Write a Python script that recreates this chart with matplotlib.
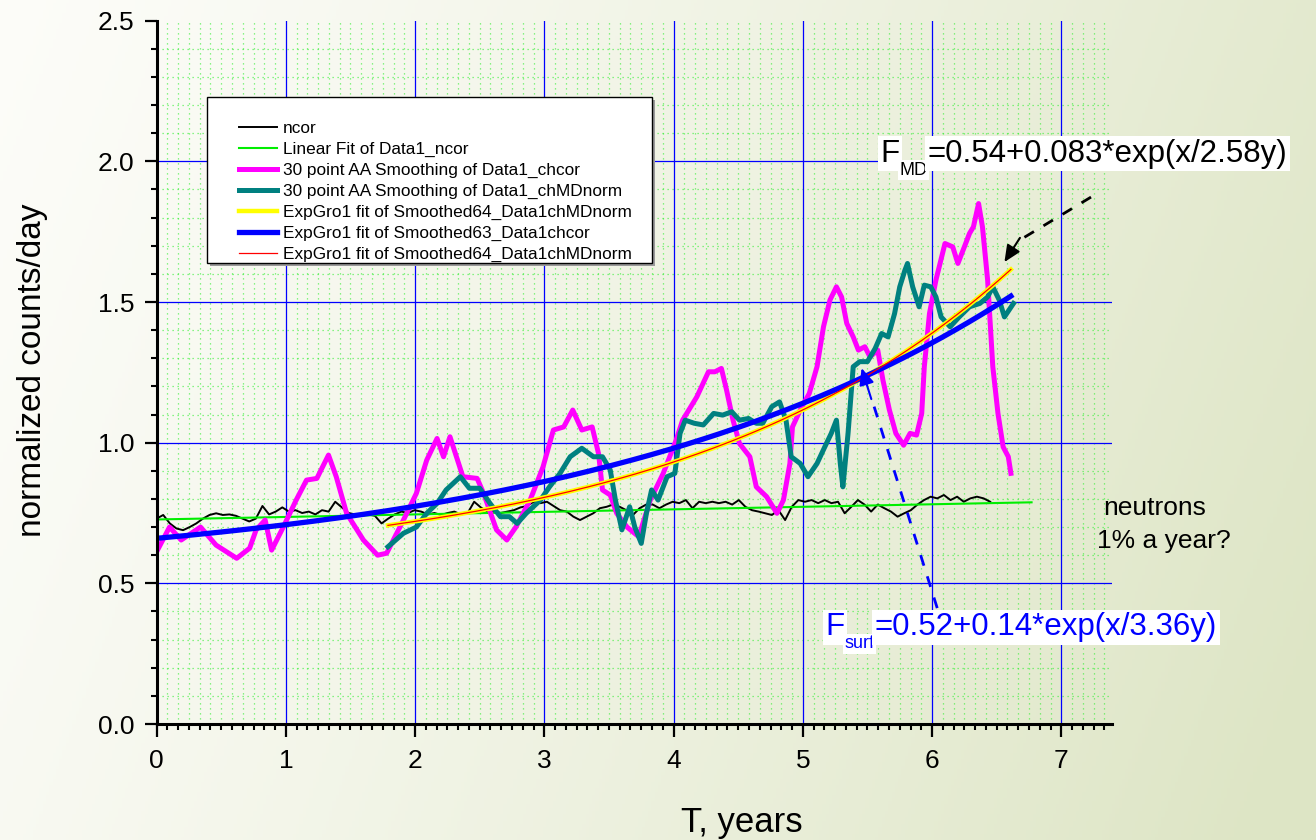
import numpy as np
import matplotlib
matplotlib.use("Agg")
import matplotlib.pyplot as plt
from matplotlib.patches import Rectangle
from matplotlib.ticker import MultipleLocator, FormatStrFormatter

plt.rcParams['font.family'] = ['Liberation Sans', 'DejaVu Sans']

# ---------------- data ----------------
# raw neutron monitor counts (ncor), evenly spaced from 0 to 6.45 years
ncor_t_end = 6.45
ncor = [0.73, 0.743, 0.713, 0.695, 0.689, 0.70, 0.713, 0.73, 0.743, 0.749,
        0.743, 0.745, 0.74, 0.73, 0.72, 0.73, 0.775, 0.745, 0.755, 0.77,
        0.755, 0.76, 0.75, 0.755, 0.745, 0.76, 0.755, 0.79, 0.77, 0.75,
        0.745, 0.74, 0.745, 0.74, 0.713, 0.73, 0.745, 0.755, 0.75, 0.76,
        0.755, 0.745, 0.75, 0.743, 0.75, 0.755, 0.745, 0.749, 0.79, 0.77,
        0.755, 0.755, 0.75, 0.755, 0.76, 0.77, 0.775, 0.79, 0.785, 0.79,
        0.775, 0.76,
        0.755, 0.737, 0.725, 0.737, 0.749, 0.767, 0.772, 0.78, 0.772, 0.76,
        0.743, 0.767, 0.78, 0.78, 0.767, 0.78, 0.79, 0.785, 0.796, 0.767,
        0.79, 0.785, 0.79, 0.785, 0.79, 0.78, 0.796, 0.772, 0.76, 0.755,
        0.749, 0.743, 0.76, 0.725, 0.772, 0.796, 0.79, 0.796, 0.785, 0.796,
        0.785, 0.79, 0.749, 0.772, 0.796, 0.78, 0.755, 0.78, 0.767, 0.755,
        0.737, 0.749, 0.76, 0.78, 0.796, 0.808, 0.802, 0.814, 0.796, 0.808,
        0.79, 0.802, 0.808, 0.802, 0.79]

# linear fit of ncor (end points)
lin_t = [0.0, 6.77]
lin_y = [0.727, 0.788]

# 30 point AA smoothing of chcor
chcor_t = [0.00, 0.10, 0.19, 0.34, 0.46, 0.62, 0.72, 0.77, 0.84, 0.89,
           0.98, 1.08, 1.16, 1.24, 1.33, 1.39, 1.47, 1.60, 1.71, 1.78,
           1.91, 2.01, 2.09, 2.17, 2.22, 2.27, 2.32, 2.37, 2.48, 2.53,
           2.63, 2.71, 2.78, 2.89, 2.99, 3.07, 3.15, 3.22, 3.29, 3.37,
           3.42, 3.45, 3.51, 3.56, 3.64, 3.73, 3.82, 3.92, 4.02, 4.07,
           4.18, 4.27, 4.32, 4.37, 4.41, 4.46, 4.51, 4.59, 4.64, 4.72,
           4.80, 4.85, 4.90, 4.92, 4.98, 5.05, 5.11, 5.16, 5.21, 5.26,
           5.30, 5.34, 5.39, 5.43, 5.48, 5.52, 5.58, 5.62, 5.67, 5.72,
           5.78, 5.83, 5.88, 5.92, 5.94, 5.98, 6.03, 6.10, 6.16, 6.20,
           6.25, 6.29, 6.32, 6.36, 6.39, 6.43, 6.47, 6.51, 6.55, 6.59,
           6.61]
chcor = [0.612, 0.70, 0.654, 0.70, 0.636, 0.589, 0.625, 0.69, 0.725, 0.618,
         0.70, 0.796, 0.867, 0.873, 0.956, 0.879, 0.749, 0.654, 0.60, 0.607,
         0.725, 0.82, 0.938, 1.015, 0.95, 1.021, 0.95, 0.879, 0.873, 0.82,
         0.69, 0.654, 0.70, 0.796, 0.914, 1.045, 1.056, 1.116, 1.045, 1.056,
         0.96, 0.832, 0.814, 0.749, 0.70, 0.666, 0.796, 0.891, 1.009, 1.08,
         1.163, 1.252, 1.252, 1.264, 1.187, 1.08, 0.997, 0.95, 0.843, 0.808,
         0.749, 0.796, 0.926, 1.056, 1.116, 1.175, 1.27, 1.412, 1.507, 1.554,
         1.518, 1.424, 1.376, 1.329, 1.341, 1.305, 1.329, 1.222, 1.116, 1.033,
         0.991, 1.033, 1.027, 1.104, 1.27, 1.459, 1.578, 1.708, 1.696, 1.637,
         1.696, 1.744, 1.767, 1.85, 1.767, 1.578, 1.27, 1.104, 0.985, 0.95,
         0.891]

# 30 point AA smoothing of chMDnorm
chmd_t = [1.79, 1.91, 2.01, 2.09, 2.17, 2.24, 2.35, 2.42, 2.50, 2.58,
          2.66, 2.73, 2.79, 2.86, 2.97, 3.04, 3.12, 3.20, 3.29, 3.38,
          3.45, 3.51, 3.55, 3.60, 3.66, 3.70, 3.75, 3.79, 3.83, 3.88,
          3.95, 4.01, 4.05, 4.09, 4.16, 4.23, 4.31, 4.38, 4.45, 4.51,
          4.58, 4.64, 4.69, 4.76, 4.82, 4.87, 4.91, 4.98, 5.04, 5.11,
          5.17, 5.22, 5.26, 5.29, 5.31, 5.35, 5.39, 5.44, 5.50, 5.56,
          5.61, 5.66, 5.71, 5.75, 5.79, 5.81, 5.85, 5.90, 5.94, 5.99,
          6.03, 6.07, 6.14, 6.21, 6.29, 6.37, 6.43, 6.47, 6.52, 6.56,
          6.63]
chmd = [0.63, 0.678, 0.70, 0.749, 0.784, 0.832, 0.879, 0.838, 0.838, 0.784,
        0.737, 0.737, 0.713, 0.749, 0.796, 0.843, 0.89, 0.95, 0.98, 0.95,
        0.95, 0.903, 0.796, 0.69, 0.772, 0.70, 0.642, 0.749, 0.832, 0.796,
        0.879, 0.891, 1.033, 1.08, 1.069, 1.063, 1.104, 1.098, 1.11, 1.08,
        1.086, 1.069, 1.069, 1.128, 1.145, 1.08, 0.95, 0.926, 0.879, 0.926,
        0.985, 1.033, 1.08, 0.926, 0.843, 1.033, 1.27, 1.288, 1.288, 1.335,
        1.388, 1.376, 1.459, 1.554, 1.613, 1.637, 1.554, 1.483, 1.56, 1.554,
        1.518, 1.447, 1.412, 1.447, 1.483, 1.495, 1.518, 1.554, 1.507, 1.447,
        1.495]

# ExpGro1 fit parameters: y = a + b*exp(x/tau)
md_a, md_b, md_tau = 0.54, 0.083, 2.58
md_range = (1.79, 6.61)
surf_a, surf_b, surf_tau = 0.52, 0.14, 3.36
surf_range = (0.0, 6.61)

legend_labels = ["ncor",
                 "Linear Fit of Data1_ncor",
                 "30 point AA Smoothing of Data1_chcor",
                 "30 point AA Smoothing of Data1_chMDnorm",
                 "ExpGro1 fit of Smoothed64_Data1chMDnorm",
                 "ExpGro1 fit of Smoothed63_Data1chcor",
                 "ExpGro1 fit of Smoothed64_Data1chMDnorm"]

# ---------------- figure ----------------
W, H = 1316, 840
fig = plt.figure(figsize=(W / 100, H / 100), dpi=100)

# soft white-to-olive backdrop
bg = fig.add_axes([0, 0, 1, 1], zorder=-10)
u = np.linspace(0, 1, 400)[None, :]
v = np.linspace(0, 1, 260)[:, None]
tt = np.clip(0.85 * u + 0.2 * v, 0, 1) ** 1.25
c0 = np.array([0.99, 0.99, 0.975])
c1 = np.array([0.87, 0.90, 0.775])
img = c0[None, None, :] + (c1 - c0)[None, None, :] * tt[..., None]
bg.imshow(img, aspect='auto', extent=[0, 1, 0, 1], origin='upper')
bg.set_axis_off()

ax = fig.add_axes([156.6 / W, 1 - 724 / H, (1111.7 - 156.6) / W, (724 - 20.7) / H])
ax.set_facecolor('none')
ax.set_xlim(0, 7.39)
ax.set_ylim(0, 2.5)

# grids
ax.xaxis.set_major_locator(MultipleLocator(1))
ax.xaxis.set_minor_locator(MultipleLocator(1 / 12))
ax.yaxis.set_major_locator(MultipleLocator(0.5))
ax.yaxis.set_minor_locator(MultipleLocator(0.1))
ax.yaxis.set_major_formatter(FormatStrFormatter('%.1f'))
ax.grid(which='minor', color='#33ee33', linestyle=(0, (1, 3)), linewidth=0.9, alpha=0.75)
for gx in range(1, 8):
    ax.axvline(gx, color='#0000ff', linewidth=0.9, zorder=1)
for gy in (0.5, 1.0, 1.5, 2.0):
    ax.axhline(gy, color='#0000ff', linewidth=0.9, zorder=1)
ax.set_axisbelow(True)

for s in ('top', 'right'):
    ax.spines[s].set_visible(False)
for s in ('left', 'bottom'):
    ax.spines[s].set_linewidth(2.2)
ax.tick_params(which='major', direction='out', length=9, width=1.6,
               labelsize=19, pad=7)
ax.tick_params(which='minor', direction='out', length=4.5, width=1.5)
ax.tick_params(axis='x', which='major', pad=9)

# curves
ncor_t = np.linspace(0, ncor_t_end, len(ncor))
h_ncor, = ax.plot(ncor_t, ncor, color='black', linewidth=1.4, zorder=2)
h_lin, = ax.plot(lin_t, lin_y, color='#00ee00', linewidth=1.5, zorder=2.1)
h_chcor, = ax.plot(chcor_t, chcor, color='#ff00ff', linewidth=3.6, zorder=2.2,
                   solid_joinstyle='round')
h_chmd, = ax.plot(chmd_t, chmd, color='#008080', linewidth=3.6, zorder=2.3,
                  solid_joinstyle='round')
xm = np.linspace(md_range[0], md_range[1], 200)
h_md, = ax.plot(xm, md_a + md_b * np.exp(xm / md_tau), color='#ffff00',
                linewidth=3.2, zorder=2.4)
xs = np.linspace(surf_range[0], surf_range[1], 200)
h_surf, = ax.plot(xs, surf_a + surf_b * np.exp(xs / surf_tau), color='#0000ff',
                  linewidth=3.8, zorder=2.5)
h_md2, = ax.plot(xm, md_a + md_b * np.exp(xm / md_tau), color='#ff0000',
                 linewidth=0.9, zorder=2.6)

# legend with a framed, shadowed box
fx0, fy0 = 207 / W, 1 - 263 / H
fw, fh = 445 / W, 166 / H
ax.add_patch(Rectangle((fx0 + 3 / W, fy0 - 3 / H), fw, fh, transform=fig.transFigure,
                       facecolor='#9a9a9a', edgecolor='none', zorder=4.4, clip_on=False))
ax.add_patch(Rectangle((fx0, fy0), fw, fh, transform=fig.transFigure,
                       facecolor='white', edgecolor='black', linewidth=1.0,
                       zorder=4.5, clip_on=False))
leg = ax.legend([h_ncor, h_lin, h_chcor, h_chmd, h_md, h_surf, h_md2], legend_labels,
                loc='upper left', bbox_to_anchor=(239 / W, 1 - 120.5 / H),
                bbox_transform=fig.transFigure, frameon=False, fontsize=12.4,
                borderpad=0, borderaxespad=0, labelspacing=0.345,
                handlelength=2.2, handletextpad=0.35)
leg.set_zorder(5)

# fit formulas
md_text = f"={md_a:.2f}+{md_b:.3f}*exp(x/{md_tau:.2f}y)"
surf_text = f"={surf_a:.2f}+{surf_b:.2f}*exp(x/{surf_tau:.2f}y)"
box = dict(boxstyle='square,pad=0.08', facecolor='white', edgecolor='none')


def formula(x, y, sub, rest, color):
    t1 = ax.text(x, y, "F", fontsize=22.5, color=color, ha='left', va='baseline',
                 bbox=box, zorder=4)
    t2 = ax.annotate(sub, xy=(1, y), xycoords=(t1, 'data'), fontsize=13,
                     color=color, ha='left', va='top', bbox=box, zorder=4)
    ax.annotate(rest, xy=(1, y), xycoords=(t2, 'data'), fontsize=22.5,
                color=color, ha='left', va='baseline', bbox=box, zorder=4)


formula(5.60, 1.998, "MD", md_text, 'black')
formula(5.177, 0.316, "surf", surf_text, '#0000ff')

# pointer arrows
ax.plot([7.23, 6.66], [1.873, 1.715], color='black', linewidth=2.0,
        linestyle=(0, (4, 4)), zorder=4, clip_on=False)
ax.annotate('', xy=(6.56, 1.642), xytext=(6.68, 1.728),
            arrowprops=dict(arrowstyle='-|>,head_length=1.0,head_width=0.45',
                            color='black', linewidth=1.5, shrinkA=0, shrinkB=0),
            zorder=4)
ax.plot([6.04, 5.53], [0.412, 1.16], color='#0000ff', linewidth=2.0,
        linestyle=(0, (4, 4)), zorder=4)
ax.annotate('', xy=(5.455, 1.265), xytext=(5.53, 1.155),
            arrowprops=dict(arrowstyle='-|>,head_length=1.0,head_width=0.45',
                            color='#0000ff', linewidth=1.5, shrinkA=0, shrinkB=0),
            zorder=4)

# side note
fig.text(1103 / W, 1 - 515 / H, "neutrons", fontsize=19, ha='left', va='baseline')
fig.text(1097 / W, 1 - 548 / H, "1% a year?", fontsize=19, ha='left', va='baseline')

# axis titles
fig.text(742 / W, 1 - 832 / H, "T, years", fontsize=25, ha='center', va='baseline')
fig.text(33 / W, 1 - 370 / H, "normalized counts/day", fontsize=24, rotation=90,
         ha='center', va='center')

fig.savefig("out.png", dpi=100)
